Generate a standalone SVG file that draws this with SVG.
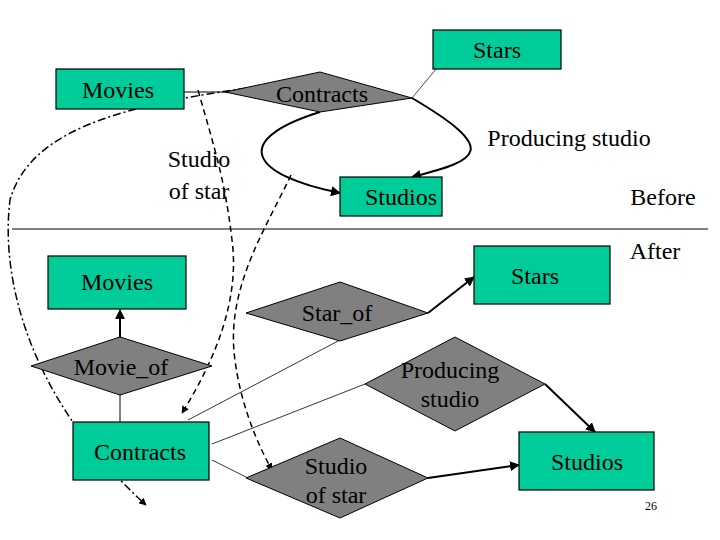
<svg xmlns="http://www.w3.org/2000/svg" width="720" height="540" viewBox="0 0 720 540">
<style>
.e{fill:#00cc99;stroke:#000;stroke-width:1.2}
.r{fill:#808080;stroke:#000;stroke-width:1}
text{font-family:"Liberation Serif",serif;font-size:24px;fill:#000;text-anchor:middle}
.l{text-anchor:start}
.c{fill:none;stroke:#000}
</style>
<defs>
<marker id="a" viewBox="0 0 10 10" refX="9" refY="5" markerWidth="5" markerHeight="5" orient="auto"><path d="M0,0L10,5L0,10z"/></marker>
</defs>
<rect width="720" height="540" fill="#fff"/>
<g id="connectors">
<line class="c" x1="12" y1="229" x2="708" y2="229"/>
<line class="c" x1="184" y1="92" x2="228" y2="92"/>
<line class="c" x1="412" y1="98" x2="437" y2="68" stroke-width="0.7"/>
<path class="c" stroke-width="2" d="M412,98 C500,150 480,160 412,177" marker-end="url(#a)"/>
<path class="c" stroke-width="2" d="M320,112 C230,140 250,175 340,193" marker-end="url(#a)"/>
<path class="c" stroke-width="1.5" stroke-dasharray="6,4" d="M198,90 C215,150 225,180 232,240 C240,300 215,360 182,413" marker-end="url(#a)"/>
<path class="c" stroke-width="1.5" stroke-dasharray="6,4" d="M291,175 C265,230 225,290 235,360 C240,400 255,440 272,470" marker-end="url(#a)"/>
<path class="c" stroke-width="1.5" stroke-dasharray="8,3,2,3" d="M262,86 C120,105 30,130 10,200 C0,280 30,400 146,505" marker-end="url(#a)"/>
<line class="c" stroke-width="2" x1="120" y1="338" x2="120" y2="310" marker-end="url(#a)"/>
<line class="c" x1="120" y1="395" x2="120" y2="422"/>
<line class="c" stroke-width="0.8" x1="188" y1="420" x2="340" y2="340"/>
<line class="c" stroke-width="0.8" x1="212" y1="444" x2="365" y2="384"/>
<line class="c" stroke-width="0.8" x1="212" y1="460" x2="248" y2="478"/>
<line class="c" stroke-width="2" x1="428" y1="313" x2="474" y2="277" marker-end="url(#a)"/>
<line class="c" stroke-width="2" x1="545" y1="384" x2="595" y2="432" marker-end="url(#a)"/>
<line class="c" stroke-width="2" x1="428" y1="478" x2="519" y2="465" marker-end="url(#a)"/>
</g>
<g id="movies1"><rect class="e" x="56" y="69" width="128" height="40"/><text x="118" y="98">Movies</text></g>
<g id="contracts1"><polygon class="r" points="225,92 320,72 412,98 320,112"/><text x="322" y="102">Contracts</text></g>
<g id="stars1"><rect class="e" x="433" y="30" width="128" height="39"/><text x="497" y="58">Stars</text></g>
<g id="studios1"><rect class="e" x="340" y="177" width="102" height="39"/><text x="401" y="205">Studios</text></g>
<g id="labels1">
<text x="199" y="167">Studio</text><text x="199" y="199">of star</text>
<text x="569" y="146">Producing studio</text>
<text x="663" y="205">Before</text>
<text x="655" y="259">After</text>
</g>
<g id="movies2"><rect class="e" x="48" y="256" width="138" height="53"/><text x="117" y="290">Movies</text></g>
<g id="stars2"><rect class="e" x="474" y="246" width="136" height="58"/><text x="535" y="284">Stars</text></g>
<g id="starof"><polygon class="r" points="246,313 340,282 428,313 340,341"/><text x="337" y="321">Star_of</text></g>
<g id="movieof"><polygon class="r" points="31,366 120,337 212,366 120,395"/><text x="121" y="375">Movie_of</text></g>
<g id="producing"><polygon class="r" points="365,384 455,337 545,384 455,431"/><text x="450" y="378">Producing</text><text x="450" y="407">studio</text></g>
<g id="contracts2"><rect class="e" x="73" y="422" width="136" height="58"/><text x="140" y="460">Contracts</text></g>
<g id="studioofstar"><polygon class="r" points="246,478 340,438 428,478 340,518"/><text x="336" y="474">Studio</text><text x="336" y="503">of star</text></g>
<g id="studios2"><rect class="e" x="519" y="432" width="135" height="58"/><text x="587" y="470">Studios</text></g>
<text x="651" y="510" style="font-size:12px">26</text>
</svg>
